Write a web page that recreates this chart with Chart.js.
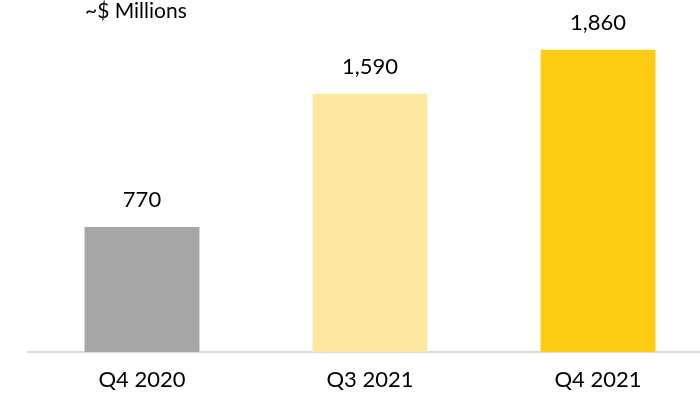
<!DOCTYPE html>
<html>
<head>
<meta charset="utf-8">
<script src="https://cdn.jsdelivr.net/npm/chart.js@4/dist/chart.umd.min.js"></script>
<style>
    html, body { margin: 0; padding: 0; background: #fff; overflow: hidden; }
    #wrap { position: relative; width: 720px; height: 400px; }
</style>
</head>
<body>
<div id="wrap"><canvas id="chart"></canvas></div>
<script>
(function () {
    var categories = ['Q4 2020', 'Q3 2021', 'Q4 2021'];
    var values = [770, 1590, 1860];
    var valueLabels = ['770', '1,590', '1,860'];
    var barColors = ['#A6A6A6', '#FDE8A0', '#FFCC14'];
    var unitLabel = '~$ Millions';

    var FONT = 'Lato, "Open Sans", sans-serif';

    // values above bars + unit label at top left
    var labelsPlugin = {
        id: 'labels',
        afterDatasetsDraw: function (chart) {
            var ctx = chart.ctx;
            var meta = chart.getDatasetMeta(0);
            ctx.save();
            ctx.fillStyle = '#000';
            ctx.font = '22px ' + FONT;
            ctx.textAlign = 'center';
            ctx.textBaseline = 'alphabetic';
            meta.data.forEach(function (bar, i) {
                ctx.fillText(valueLabels[i], bar.x, bar.y - 20);
            });
            ctx.font = '21px ' + FONT;
            ctx.textAlign = 'left';
            ctx.fillText(unitLabel, 85, 18);
            ctx.restore();
        }
    };

    new Chart(document.getElementById('chart'), {
        type: 'bar',
        data: {
            labels: categories,
            datasets: [{
                data: values,
                backgroundColor: barColors,
                borderWidth: 0,
                categoryPercentage: 1,
                barPercentage: 0.504
            }]
        },
        options: {
            responsive: true,
            maintainAspectRatio: false,
            animation: false,
            layout: { padding: { left: 28, right: 8, top: 27, bottom: 0 } },
            plugins: {
                legend: { display: false },
                tooltip: { enabled: false }
            },
            scales: {
                x: {
                    afterFit: function (scale) { scale.height = 48; },
                    grid: { display: false, drawTicks: false },
                    border: { display: true, color: '#D9D9D9', width: 2 },
                    ticks: {
                        color: '#000',
                        font: { family: FONT, size: 22 },
                        padding: 15
                    }
                },
                y: {
                    display: false,
                    min: 0,
                    max: 2000
                }
            }
        },
        plugins: [labelsPlugin]
    });
})();
</script>
</body>
</html>
